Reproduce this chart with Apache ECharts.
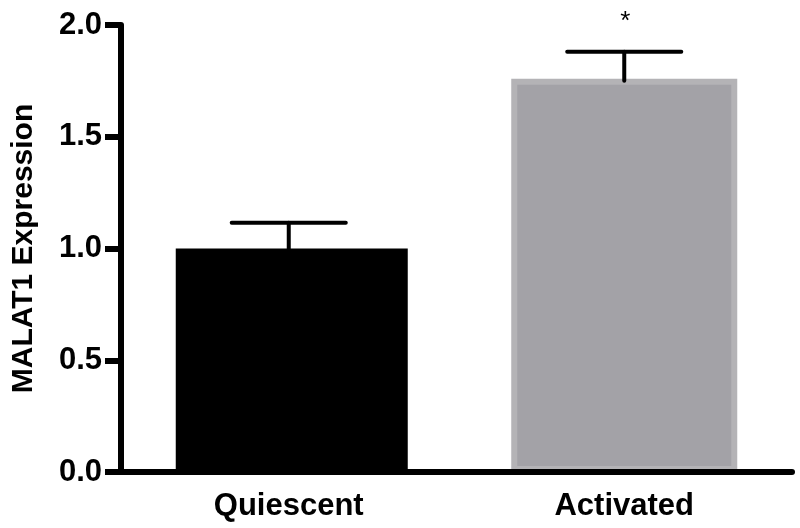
<!DOCTYPE html>
<html>
<head>
    <meta charset="utf-8" />
    <title>MALAT1 Expression</title>
    <script src="https://cdn.jsdelivr.net/npm/echarts@6/dist/echarts.min.js"></script>
    <style>
        html, body { margin: 0; padding: 0; background: #fff; }
        #chart { width: 800px; height: 528px; }
    </style>
</head>
<body>
    <div id="chart"></div>
    <script>
        // data
        var categories = ['Quiescent', 'Activated'];
        var means = [1.0, 1.76];
        var errUp = [0.115, 0.12];
        var marks = ['', '*'];
        var yTicks = ['0.0', '0.5', '1.0', '1.5', '2.0'];

        var font = "'Liberation Sans', Arial, sans-serif";

        var errData = categories.map(function (c, i) {
            return [i, means[i], means[i] + errUp[i]];
        });

        var chart = echarts.init(document.getElementById('chart'));
        var option = {
            animation: false,
            grid: { left: 121, right: 8, top: 25, bottom: 56, outerBoundsMode: 'none' },
            xAxis: {
                type: 'category',
                data: categories,
                z: 5,
                axisLine: { lineStyle: { color: '#000', width: 6 } },
                axisTick: { alignWithLabel: true, length: 16, lineStyle: { color: '#000', width: 5 } },
                axisLabel: { color: '#000', fontFamily: font, fontWeight: 'bold', fontSize: 31, margin: 19 }
            },
            yAxis: {
                type: 'value',
                min: 0, max: 2, interval: 0.5,
                z: 5,
                name: 'MALAT1 Expression',
                nameLocation: 'middle',
                nameGap: 82,
                nameTextStyle: { color: '#000', fontFamily: font, fontWeight: 'bold', fontSize: 30 },
                axisLine: { show: true, lineStyle: { color: '#000', width: 6 } },
                axisTick: { show: true, length: 16, lineStyle: { color: '#000', width: 6 } },
                splitLine: { show: false },
                axisLabel: {
                    color: '#000', fontFamily: font, fontWeight: 'bold', fontSize: 31, margin: 19,
                    formatter: function (v) { return yTicks[Math.round(v / 0.5)]; }
                }
            },
            series: [
                {
                    type: 'bar',
                    data: [means[0], null],
                    barWidth: 232,
                    barGap: '-100%',
                    itemStyle: { color: '#000' }
                },
                {
                    type: 'bar',
                    data: [null, means[1]],
                    barWidth: 226,
                    barGap: '-100%',
                    itemStyle: { color: '#a3a2a7', borderColor: '#b4b3b6', borderWidth: 6 }
                },
                {
                    type: 'custom',
                    z: 4,
                    data: errData,
                    renderItem: function (params, api) {
                        var i = api.value(0);
                        var lo = api.coord([i, api.value(1)]);
                        var hi = api.coord([i, api.value(2)]);
                        var half = api.size([1, 0])[0] * 0.17;
                        var style = { stroke: '#000', lineWidth: 4, lineCap: 'round' };
                        var children = [
                            { type: 'line', shape: { x1: hi[0], y1: hi[1], x2: lo[0], y2: lo[1] + 2 }, style: style },
                            { type: 'line', shape: { x1: hi[0] - half, y1: hi[1], x2: hi[0] + half, y2: hi[1] }, style: style }
                        ];
                        if (marks[params.dataIndex]) {
                            children.push({
                                type: 'text',
                                style: {
                                    text: marks[params.dataIndex],
                                    x: hi[0] + 1, y: hi[1] - 30,
                                    fill: '#000',
                                    font: '26px ' + font,
                                    align: 'center', verticalAlign: 'middle'
                                }
                            });
                        }
                        return { type: 'group', children: children };
                    }
                }
            ]
        };
        chart.setOption(option);
    </script>
</body>
</html>
